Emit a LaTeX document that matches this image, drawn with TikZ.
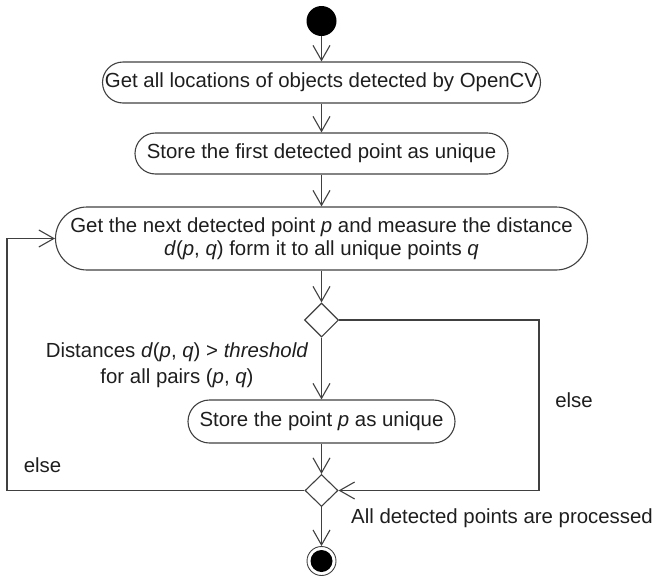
\documentclass[tikz,border=0pt]{standalone}
\usepackage{fontspec}
\setmainfont{Liberation Sans}
\usetikzlibrary{arrows.meta,shapes.geometric}
\definecolor{lncol}{HTML}{404040}
\definecolor{txcol}{HTML}{1E1E1E}
\begin{document}
\begin{tikzpicture}[x=1pt,y=-1pt,
  every node/.style={font=\fontsize{20.4}{23.5}\selectfont, text=txcol, inner sep=0pt},
  act/.style={draw=lncol, line width=1.1pt, align=center},
  dec/.style={draw=lncol, line width=1.1pt, diamond, minimum width=34pt, minimum height=34pt},
  wire/.style={draw=lncol, line width=1.1pt},
  arr/.style={wire, -{Straight Barb[length=15pt,width=17pt,line width=1.1pt]}}
]
\useasboundingbox (0,0) rectangle (654,576);
\node[circle, fill=black, minimum size=30pt] (start) at (321.5,21) {};
\node[act, minimum width=438pt, minimum height=41pt, rounded corners=20.5pt] (b1) at (321.5,82.5)
  {Get all locations of objects detected by OpenCV};
\node[act, minimum width=373pt, minimum height=41pt, rounded corners=20.5pt] (b2) at (321.5,153.5)
  {Store the first detected point as unique};
\node[act, minimum width=532pt, minimum height=63pt, rounded corners=31.5pt] (b3) at (321.5,238.5)
  {Get the next detected point \textit{p} and measure the distance\\\textit{d}(\textit{p}, \textit{q}) form it to all unique points \textit{q}};
\node[dec] (d1) at (321.5,320) {};
\node[act, minimum width=267pt, minimum height=43pt, rounded corners=21.5pt] (b4) at (321.5,421.5)
  {Store the point \textit{p} as unique};
\node[dec, minimum width=33pt, minimum height=32pt] (d2) at (321.5,490.5) {};
\node[circle, draw=lncol, line width=0.9pt, minimum size=29pt] (end) at (321.5,561) {};
\fill[black] (end.center) circle[radius=11pt];
\coordinate (rc) at (539,320);
\coordinate (lc) at (7,490.5);
\node[align=center, font=\fontsize{20.4}{25.5}\selectfont] (lab1) at (177,365) {Distances \textit{d}(\textit{p}, \textit{q}) > \textit{threshold}\\for all pairs (\textit{p}, \textit{q})};
\node (else1) at (574,400) {else};
\node (else2) at (42.5,465) {else};
\node[anchor=west] (lab2) at (351,518) {All detected points are processed};
\draw[arr] (start) -- (b1);
\draw[arr] (b1) -- (b2);
\draw[arr] (b2) -- (b3);
\draw[arr] (b3) -- (d1);
\draw[arr] (d1) -- (b4);
\draw[arr] (b4) -- (d2);
\draw[arr] (d2) -- (end);
\draw[arr] (d1.east) -- (rc) |- (d2.east);
\draw[arr] (d2.west) -- (lc) |- (b3.west);
\end{tikzpicture}
\end{document}
